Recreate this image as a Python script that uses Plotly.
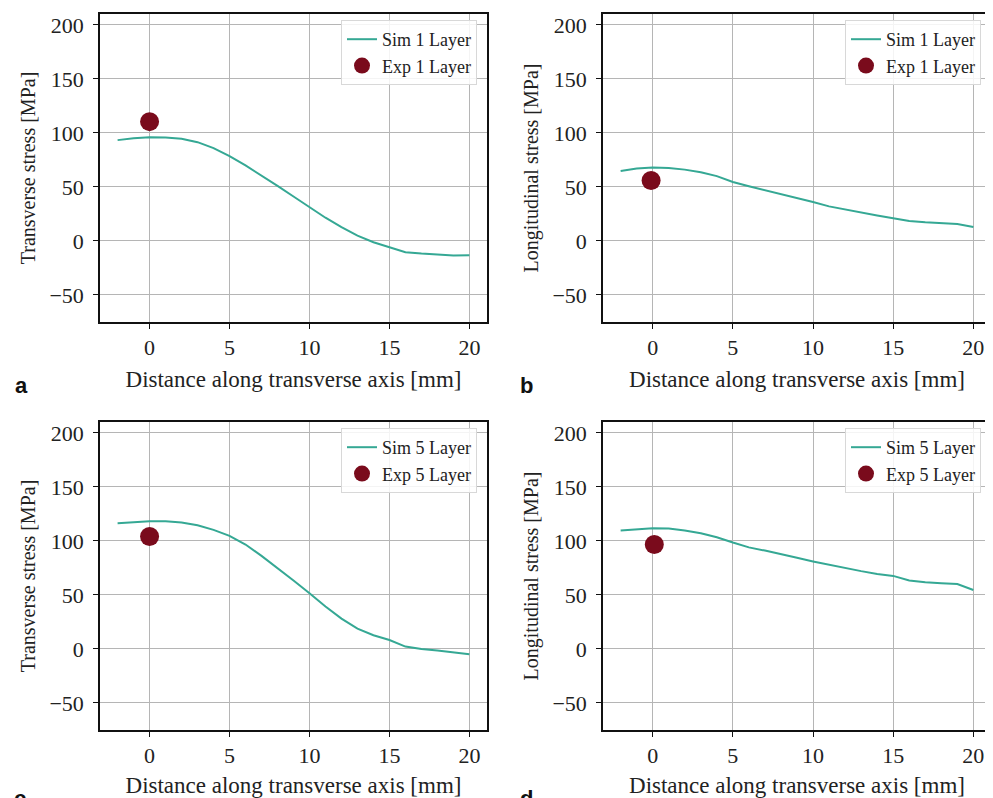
import plotly.graph_objects as go

distance_mm = [-2, -1, 0, 1, 2, 3, 4, 5, 6, 7, 8, 9, 10, 11, 12, 13, 14, 15, 16, 17, 18, 19, 20]

sim_transverse_1 = [93.3, 95.1, 96.0, 95.7, 94.5, 91.4, 85.9, 78.5, 69.9, 60.7, 50.9, 41.1, 31.3,
                    21.5, 12.9, 4.9, -1.2, -5.5, -10.4, -11.7, -12.6, -13.5, -13.2]
sim_longitudinal_1 = [64.8, 67.0, 68.0, 67.6, 66.0, 63.6, 60.0, 54.6, 50.6, 47.0, 43.0, 40.0, 36.0,
                      32.0, 29.0, 26.0, 23.5, 21.0, 18.5, 17.3, 16.7, 15.7, 13.0]
sim_transverse_5 = [116.4, 117.6, 118.2, 118.2, 117.0, 114.5, 110.2, 104.6, 96.6, 86.1, 75.0, 63.3, 51.5,
                    39.2, 28.1, 18.8, 12.7, 8.3, 2.2, 0.0, -1.5, -3.4, -4.9]
sim_longitudinal_5 = [109.6, 111.0, 111.7, 111.4, 109.6, 107.0, 103.4, 98.5, 94.0, 91.0, 88.0, 84.3, 81.0,
                      77.8, 74.7, 72.0, 69.4, 67.6, 63.3, 61.7, 60.8, 60.0, 54.6]

exp_x = [[0.0], [-0.1], [0.0], [0.1]]
exp_y = [[110.4], [56.0], [104.0], [96.6]]

panel_series = [sim_transverse_1, sim_longitudinal_1, sim_transverse_5, sim_longitudinal_5]
sim_names = ["Sim 1 Layer", "Sim 1 Layer", "Sim 5 Layer", "Sim 5 Layer"]
exp_names = ["Exp 1 Layer", "Exp 1 Layer", "Exp 5 Layer", "Exp 5 Layer"]
y_titles = ["Transverse stress [MPa]", "Longitudinal stress [MPa]",
            "Transverse stress [MPa]", "Longitudinal stress [MPa]"]
x_title = "Distance along transverse axis [mm]"
panel_letters = ["a", "b", "c", "d"]
x_ticks = [0, 5, 10, 15, 20]
y_ticks = [-50, 0, 50, 100, 150, 200]

OFF = 8  # page body margin
W, H = 993 - OFF, 798 - OFF
SIM_COLOR = "#35a894"
EXP_COLOR = "#7a0b1c"
FONT = "Liberation Serif, Times New Roman, serif"

# pixel boxes in window coordinates (left, right, top, bottom)
boxes = [(100, 487, 14, 322), (603, 991, 14, 322), (100, 487, 422, 730), (603, 991, 422, 730)]
letter_pos = [(21, 385), (526, 385), (20, 798), (526, 798)]


def px(v):
    return (v - OFF) / W


def py(v):
    return 1 - (v - OFF) / H


fig = go.Figure()
layout = dict(width=W, height=H, margin=dict(l=0, r=0, t=0, b=0),
              paper_bgcolor="white", plot_bgcolor="white",
              font=dict(family=FONT, size=20, color="#222"), showlegend=True)
annotations = []

for i in range(4):
    l, r, t, b = boxes[i]
    sfx = "" if i == 0 else str(i + 1)
    xa, ya = "x" + sfx, "y" + sfx
    leg = "legend" if i == 0 else "legend" + str(i + 1)
    fig.add_trace(go.Scatter(x=distance_mm, y=panel_series[i], mode="lines", name=sim_names[i],
                             line=dict(color=SIM_COLOR, width=2), xaxis=xa, yaxis=ya, legend=leg))
    fig.add_trace(go.Scatter(x=exp_x[i], y=exp_y[i], mode="markers", name=exp_names[i],
                             marker=dict(color=EXP_COLOR, size=19), xaxis=xa, yaxis=ya, legend=leg))
    common = dict(showline=True, linecolor="#111", linewidth=1.6, mirror=True,
                  ticks="outside", ticklen=5, tickwidth=1.2, tickcolor="#111",
                  showgrid=True, gridcolor="#b5b5b5", gridwidth=1, zeroline=False,
                  tickfont=dict(family=FONT, size=22, color="#222"))
    layout["xaxis" + sfx] = dict(common, domain=[px(l), px(r)], range=[-3.1, 21.1],
                                 tickvals=x_ticks, anchor=ya,
                                 title=dict(text=x_title, font=dict(family=FONT, size=23, color="#222"),
                                            standoff=12))
    layout["yaxis" + sfx] = dict(common, domain=[py(b), py(t)], range=[-75, 210],
                                 tickvals=y_ticks,
                                 ticktext=[str(v).replace("-", "\u2212") for v in y_ticks],
                                 anchor=xa, ticklabelstandoff=5,
                                 title=dict(text=y_titles[i], font=dict(family=FONT, size=20, color="#222"),
                                            standoff=8))
    layout[leg] = dict(x=px(r - 10), y=py(t + 6), xanchor="right", yanchor="top",
                       bgcolor="rgba(255,255,255,0.85)", bordercolor="#d8d8d8", borderwidth=1,
                       font=dict(family=FONT, size=18, color="#222"),
                       tracegroupgap=0)
    lx, ly = letter_pos[i]
    annotations.append(dict(text="<b>" + panel_letters[i] + "</b>", x=px(lx), y=py(ly),
                            xref="paper", yref="paper", showarrow=False, xanchor="center",
                            yanchor="middle", font=dict(family="Liberation Sans, Arial, sans-serif",
                                                        size=22, color="#111")))

layout["annotations"] = annotations
fig.update_layout(**layout)
fig.write_html("out.html")
